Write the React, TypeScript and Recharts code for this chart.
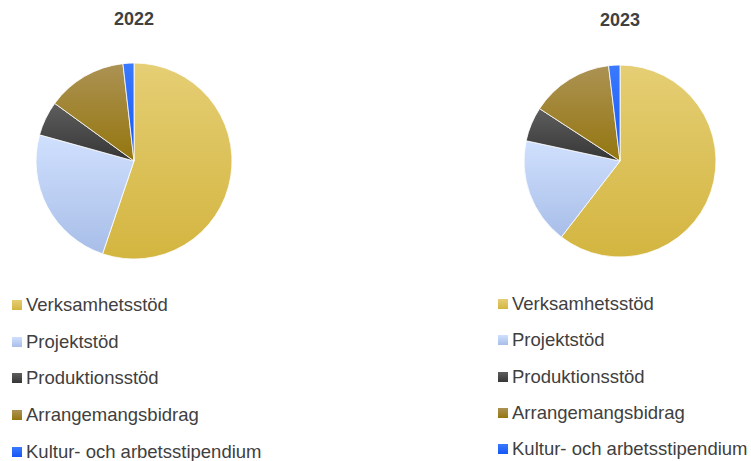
import React from 'react';
import { PieChart, Pie, Cell, Legend } from 'recharts';

const categories = [
  'Verksamhetsstöd',
  'Projektstöd',
  'Produktionsstöd',
  'Arrangemangsbidrag',
  'Kultur- och arbetsstipendium',
];
const values2022 = [55.2, 24.1, 5.7, 13.2, 1.8];
const values2023 = [60.4, 17.9, 5.8, 13.9, 1.9];
const years = ['2022', '2023'];

// top -> bottom gradient colours per category
const shades = [
  ['#e5ce74', '#d3b540'],
  ['#d0e0fe', '#a8bee8'],
  ['#5e5e5e', '#363636'],
  ['#ac9254', '#94760e'],
  ['#3a7aff', '#1457f4'],
];

const textColor = '#404040';
const font = '"Liberation Sans", Arial, sans-serif';

function LegendList({ rowGap }: { rowGap: number }) {
  return (
    <div style={{ fontFamily: font, fontSize: 18.5, color: textColor }}>
      {categories.map((name, i) => (
        <div
          key={name}
          style={{ display: 'flex', alignItems: 'center', height: rowGap, whiteSpace: 'nowrap' }}
        >
          <span
            style={{
              display: 'inline-block',
              width: 10,
              height: 10,
              marginRight: 4,
              background: `linear-gradient(${shades[i][0]}, ${shades[i][1]})`,
            }}
          />
          <span>{name}</span>
        </div>
      ))}
    </div>
  );
}

function YearPie({
  year,
  values,
  cx,
  cy,
  radius,
  titleY,
  legendLeft,
  legendTop,
  rowGap,
  idp,
}: {
  year: string;
  values: number[];
  cx: number;
  cy: number;
  radius: number;
  titleY: number;
  legendLeft: number;
  legendTop: number;
  rowGap: number;
  idp: string;
}) {
  const data = categories.map((name, i) => ({ name, value: values[i] }));
  return (
    <div style={{ position: 'relative', width: 375, height: 461 }}>
      <div
        style={{
          position: 'absolute',
          left: cx - 60,
          width: 120,
          top: titleY - 11,
          textAlign: 'center',
          fontFamily: font,
          fontWeight: 'bold',
          fontSize: 18,
          color: textColor,
        }}
      >
        {year}
      </div>
      <PieChart width={375} height={461} margin={{ top: 0, right: 0, bottom: 0, left: 0 }}>
        <defs>
          {shades.map((s, i) => (
            <linearGradient key={i} id={`${idp}-g${i}`} x1="0" y1="0" x2="0" y2="1">
              <stop offset="0%" stopColor={s[0]} />
              <stop offset="100%" stopColor={s[1]} />
            </linearGradient>
          ))}
        </defs>
        <Pie
          data={data}
          dataKey="value"
          nameKey="name"
          cx={cx}
          cy={cy}
          outerRadius={radius}
          startAngle={90}
          endAngle={-270}
          stroke="#ffffff"
          strokeWidth={0.8}
          isAnimationActive={false}
        >
          {data.map((d, i) => (
            <Cell key={d.name} fill={`url(#${idp}-g${i})`} />
          ))}
        </Pie>
        <Legend
          layout="vertical"
          content={() => <LegendList rowGap={rowGap} />}
          wrapperStyle={{ left: legendLeft, top: legendTop, width: 'auto', bottom: 'auto' }}
        />
      </PieChart>
    </div>
  );
}

export default function App() {
  return (
    <div style={{ position: 'absolute', left: 0, top: 0, width: 751, height: 461, background: '#fff' }}>
      <div style={{ position: 'absolute', left: 0, top: 0 }}>
        <YearPie
          year={years[0]}
          values={values2022}
          cx={134}
          cy={161}
          radius={98}
          titleY={20}
          legendLeft={12}
          legendTop={287}
          rowGap={36.6}
          idp="a"
        />
      </div>
      <div style={{ position: 'absolute', left: 376, top: 0 }}>
        <YearPie
          year={years[1]}
          values={values2023}
          cx={244}
          cy={161}
          radius={96}
          titleY={21}
          legendLeft={122}
          legendTop={286}
          rowGap={36.3}
          idp="b"
        />
      </div>
    </div>
  );
}
